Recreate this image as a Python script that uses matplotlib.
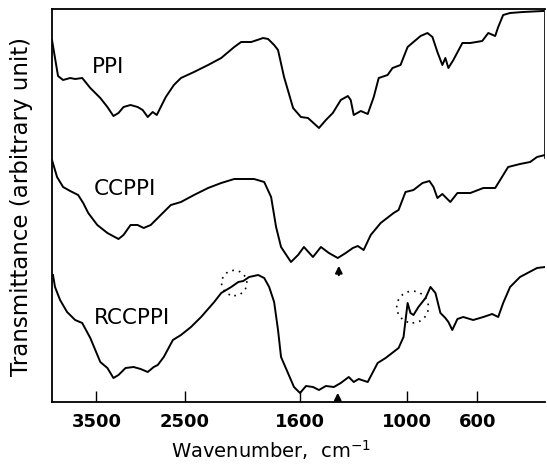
"""IR transmittance spectra of PPI, CCPPI and RCCPPI (scanned-figure recreation)."""
import numpy as np
import matplotlib
matplotlib.use("Agg")
import matplotlib.pyplot as plt
from matplotlib.ticker import FixedLocator, NullLocator

# Wavenumber (cm-1) / transmittance (arbitrary unit) pairs
PPI_WN = [4000, 3932, 3875, 3795, 3739, 3659, 3568, 3455, 3375, 3307, 3250, 3193,
          3114, 3034, 2977, 2920, 2864, 2818, 2773, 2716, 2625, 2545, 2398, 2239,
          2091, 1972, 1933, 1876, 1809, 1781, 1747, 1725, 1691, 1640, 1596, 1556,
          1494, 1455, 1416, 1371, 1331, 1315, 1298, 1258, 1219, 1185, 1157, 1107,
          1079, 1034, 994, 961, 921, 882, 854, 826, 798, 781, 764, 736, 685, 640,
          573, 539, 500, 483, 455, 416, 343, 230]
PPI_T = [362, 326, 322, 324, 323, 324, 314, 304, 295, 286, 289, 295,
         297, 295, 292, 285, 290, 287, 295, 305, 317, 324, 330, 337,
         344, 355, 360, 360, 364, 363, 357, 352, 325, 294, 285, 284,
         274, 282, 289, 302, 306, 302, 287, 291, 288, 305, 324, 327,
         334, 337, 355, 360, 366, 369, 365, 350, 337, 344, 334, 342, 359, 359,
         361, 369, 366, 375, 387, 389, 390, 391]

CCPPI_WN = [4000, 3943, 3875, 3795, 3705, 3648, 3591, 3489, 3375, 3250, 3193, 3114,
            3034, 2966, 2886, 2773, 2659, 2545, 2398, 2239, 2091, 1972, 1860, 1803,
            1764, 1736, 1708, 1652, 1612, 1579, 1528, 1483, 1438, 1388, 1343, 1303,
            1275, 1242, 1202, 1146, 1073, 1045, 1006, 961, 910, 871, 848, 826, 798,
            753, 713, 640, 567, 500, 472, 427, 360, 303, 264, 219]
CCPPI_T = [242, 225, 215, 211, 207, 199, 189, 177, 169, 163, 167, 177,
           177, 174, 177, 187, 197, 200, 207, 214, 219, 223, 223, 220,
           205, 175, 155, 140, 147, 155, 145, 155, 149, 144, 149, 154,
           156, 152, 167, 179, 189, 192, 210, 212, 219, 221, 215, 204, 208,
           200, 209, 209, 214, 214, 222, 235, 238, 240, 245, 247]

RCCPPI_WN = [3989, 3966, 3909, 3830, 3739, 3659, 3568, 3455, 3375, 3307, 3250, 3170,
             3080, 3000, 2920, 2852, 2807, 2739, 2636, 2545, 2432, 2318, 2170, 2091,
             1989, 1949, 1921, 1888, 1837, 1803, 1775, 1747, 1725, 1708, 1669, 1635,
             1601, 1567, 1528, 1494, 1455, 1410, 1371, 1326, 1298, 1270, 1219, 1163,
             1118, 1045, 1017, 994, 978, 961, 933, 893, 865, 837, 809, 781, 764, 742,
             713, 680, 624, 567, 517, 483, 455, 416, 360, 264, 219]
RCCPPI_T = [127, 115, 102, 90, 82, 79, 64, 40, 34, 24, 27, 34,
            35, 33, 30, 35, 37, 45, 62, 67, 75, 85, 100, 109,
            115, 120, 121, 125, 127, 124, 115, 100, 72, 45, 29, 15,
            9, 16, 15, 12, 16, 15, 19, 25, 20, 23, 20, 39,
            44, 54, 65, 99, 89, 87, 95, 104, 115, 109, 89, 84, 80, 72,
            83, 85, 82, 85, 88, 85, 99, 115, 125, 134, 135]

TICKS = [3500, 2500, 1600, 1000, 600]
NAMES = ["PPI", "CCPPI", "RCCPPI"]
NAME_POS = [(3364, 335), (3182, 213), (3102, 84)]
ARROWS = [(1382, 124, 139), (1388, 0, 12)]          # wn, tail, head
CIRCLES = [(1972, 119, 330), (966, 95, 520)]        # wn, T, marker area


def fwd(w):
    # spectrometer chart: half the scale above 2000 cm-1 (increasing for matplotlib)
    w = np.asarray(w, dtype=float)
    return np.where(w >= 2000, w / 2.0 - 2000, w - 3000)


def inv(v):
    v = np.asarray(v, dtype=float)
    return np.where(v >= -1000, 2 * (v + 2000), v + 3000)


fig = plt.figure(figsize=(5.47, 4.68), dpi=100)
ax = fig.add_axes([52 / 547, 66 / 468, 493 / 547, 393 / 468])
ax.set_xscale("function", functions=(fwd, inv))

for wn, t in [(PPI_WN, PPI_T), (CCPPI_WN, CCPPI_T), (RCCPPI_WN, RCCPPI_T)]:
    ax.plot(wn, t, color="black", lw=1.4, solid_joinstyle="round")

for name, (x, y) in zip(NAMES, NAME_POS):
    ax.text(x, y, name, fontsize=15.5, ha="center", va="center", family="DejaVu Sans")

for x, tail, head in ARROWS:
    ax.annotate("", xy=(x, head), xytext=(x, tail),
                arrowprops=dict(arrowstyle="-|>", color="black", lw=1.5, mutation_scale=10))

for x, y, s in CIRCLES:
    ax.scatter([x], [y], s=s, facecolors="none", edgecolors="black",
               linewidths=1.2, linestyles=(0, (1, 3)))

ax.set_xlim(4000, 219)
ax.set_ylim(0, 393)
ax.xaxis.set_major_locator(FixedLocator(TICKS))
ax.xaxis.set_minor_locator(NullLocator())
ax.set_xticklabels([str(t) for t in TICKS], family=["Liberation Sans Narrow", "DejaVu Sans"],
                   fontsize=13, fontweight="bold")
ax.tick_params(axis="x", direction="in", length=8, width=1, pad=8)
ax.set_yticks([])

for side in ["left", "top", "bottom"]:
    ax.spines[side].set_linewidth(1.3)
ax.spines["right"].set_visible(False)
ax.axvline(219, ymin=0.62, ymax=1, color="black", lw=1.2)

fig.text(271 / 547, 1 - 450 / 468, "Wavenumber,  cm$^{-1}$", fontsize=14,
         ha="center", va="center")
fig.text(22 / 547, 1 - 207 / 468, "Transmittance (arbitrary unit)", fontsize=16.5,
         ha="center", va="center", rotation=90)

fig.savefig("out.png", dpi=100, facecolor="white")
